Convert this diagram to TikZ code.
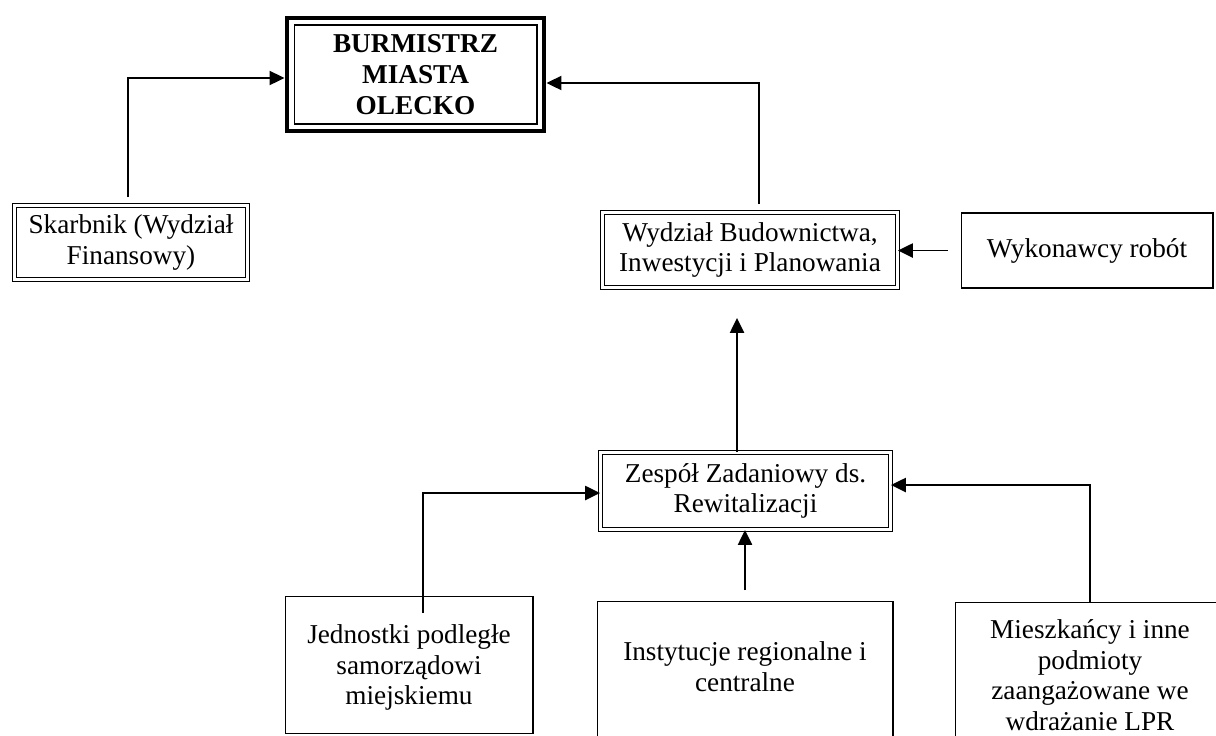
\documentclass[tikz,border=0pt]{standalone}
\usepackage{fontspec}
\setmainfont{Liberation Serif}
\usetikzlibrary{arrows.meta,positioning}

\begin{document}
\begin{tikzpicture}[x=0.02cm,y=-0.02cm,
    font=\fontsize{15.5}{17.5}\selectfont,
    plainbox/.style={draw,line width=0.6pt,inner sep=0pt,align=center},
    dbox/.style={plainbox,double,double distance=1.8pt,line width=0.5pt},
    lowbox/.style={draw,line width=0.6pt,inner sep=0pt,anchor=north},
    arr/.style={line width=1.1pt,-{Triangle[length=8.5pt,width=8pt]}}]
    \clip (0,0) rectangle (1216,735);
    % top level
    \node[plainbox,minimum width=4.86cm,minimum height=1.98cm,
          font=\fontsize{15.5}{17.5}\selectfont\bfseries] (burm) at (415.5,74.5)
        {BURMISTRZ\\MIASTA\\OLECKO};
    \draw[line width=2.8pt] ([shift={(-0.13cm,0.13cm)}]burm.north west)
        rectangle ([shift={(0.13cm,-0.13cm)}]burm.south east);
    % second level
    \node[dbox,minimum width=4.66cm,minimum height=1.48cm] (skarb) at (131,242.5)
        {Skarbnik (Wydział\\Finansowy)};
    \node[dbox,minimum width=5.9cm,minimum height=1.5cm] (wyd) at (750,250)
        {Wydział Budownictwa,\\Inwestycji i Planowania};
    \node[plainbox,minimum width=5.04cm,minimum height=1.5cm] (wyk) at (1087,250.5)
        {Wykonawcy robót};
    % team
    \node[dbox,minimum width=5.8cm,minimum height=1.54cm] (zesp) at (745.5,491)
        {Zespół Zadaniowy ds.\\Rewitalizacji};
    % bottom row
    \node[lowbox] (jedn) at (409,596)
        {\parbox[t][2.74cm][t]{4.96cm}{\centering\vspace*{0.56cm}%
         Jednostki podległe\\samorządowi\\miejskiemu}};
    \node[lowbox] (inst) at (745,601)
        {\parbox[t][3cm][t]{5.92cm}{\centering\vspace*{0.8cm}%
         Instytucje regionalne i\\centralne}};
    \node[lowbox] (miesz) at (1090,602)
        {\parbox[t][3cm][t]{5.4cm}{\centering\vspace*{0.34cm}%
         Mieszkańcy i inne\\podmioty\\zaangażowane we\\wdrażanie LPR}};
    % connectors
    \draw[arr,shorten <=0.16cm] ([xshift=-0.06cm]skarb.north) |- ([shift={(-0.18cm,-0.07cm)}]burm.west);
    \draw[arr,shorten <=0.16cm] ([xshift=0.18cm]wyd.north) |- ([shift={(0.18cm,-0.17cm)}]burm.east);
    \draw[arr,shorten <=0.26cm] (wyk.west) -- (wyk.west -| wyd.east);
    \draw[arr,shorten >=0.6cm] ([xshift=-0.17cm]zesp.north) -- ([xshift=-0.17cm]zesp.north |- wyd.south);
    \draw[arr] ([shift={(0.28cm,-0.34cm)}]jedn.north) |- ([yshift=-0.04cm]zesp.west);
    \draw[arr,shorten <=0.22cm] (inst.north) -- (inst.north |- zesp.south);
    \draw[arr] (miesz.north) |- ([yshift=0.12cm]zesp.east);
\end{tikzpicture}
\end{document}
